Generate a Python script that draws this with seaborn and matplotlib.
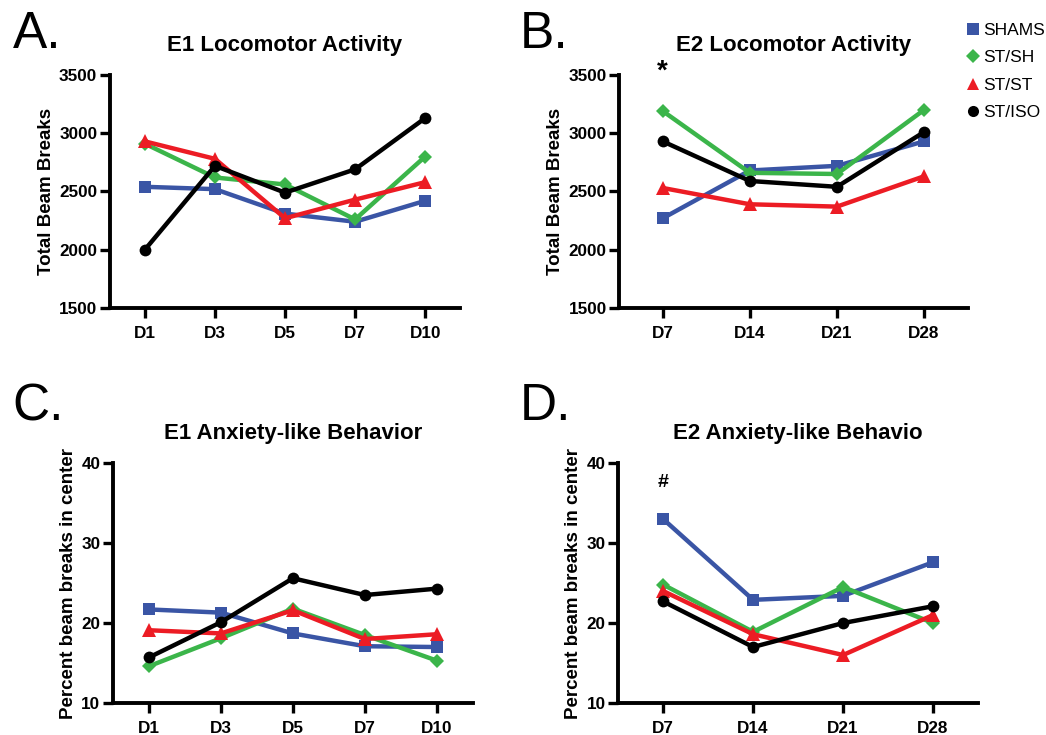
import numpy as np
import pandas as pd
import matplotlib.pyplot as plt
from matplotlib.lines import Line2D
import seaborn as sns

# ---------------------------
# Data
# ---------------------------
groups = ["SHAMS", "ST/SH", "ST/ST", "ST/ISO"]
e1_days = ["D1", "D3", "D5", "D7", "D10"]
e2_days = ["D7", "D14", "D21", "D28"]

# E1 locomotor activity (total beam breaks)
e1_loco_shams = [2540, 2520, 2310, 2240, 2420]
e1_loco_stsh = [2910, 2620, 2560, 2260, 2800]
e1_loco_stst = [2930, 2780, 2270, 2430, 2580]
e1_loco_stiso = [2000, 2720, 2490, 2690, 3130]

# E2 locomotor activity
e2_loco_shams = [2270, 2680, 2720, 2930]
e2_loco_stsh = [3190, 2660, 2650, 3200]
e2_loco_stst = [2530, 2390, 2370, 2630]
e2_loco_stiso = [2930, 2590, 2540, 3010]

# E1 anxiety-like behavior (percent beam breaks in center)
e1_anx_shams = [21.7, 21.3, 18.7, 17.1, 17.0]
e1_anx_stsh = [14.6, 18.1, 21.8, 18.5, 15.3]
e1_anx_stst = [19.1, 18.7, 21.6, 18.0, 18.6]
e1_anx_stiso = [15.7, 20.1, 25.6, 23.5, 24.3]

# E2 anxiety-like behavior
e2_anx_shams = [33.0, 22.9, 23.4, 27.6]
e2_anx_stsh = [24.8, 18.9, 24.5, 20.0]
e2_anx_stst = [24.0, 18.6, 16.0, 21.0]
e2_anx_stiso = [22.7, 17.0, 20.0, 22.1]

colors = {"SHAMS": "#3A55A5", "ST/SH": "#3BB54A", "ST/ST": "#EC1C24", "ST/ISO": "#000000"}
markers = {"SHAMS": "s", "ST/SH": "D", "ST/ST": "^", "ST/ISO": "o"}
msize = {"SHAMS": 8.5, "ST/SH": 7.5, "ST/ST": 9.5, "ST/ISO": 8.5}


def long_df(days, series):
    rows = []
    for g, vals in zip(groups, series):
        for d, v in zip(days, vals):
            rows.append({"day": d, "group": g, "value": v})
    return pd.DataFrame(rows)


sns.set_style("ticks", {"axes.edgecolor": "black", "text.color": "black",
                        "xtick.color": "black", "ytick.color": "black",
                        "axes.labelcolor": "black"})
plt.rcParams["font.family"] = ["Liberation Sans", "DejaVu Sans"]
plt.rcParams["font.weight"] = "bold"

fig = plt.figure(figsize=(10.46, 7.35), dpi=100)

panels = [
    ([0.105, 0.581, 0.335, 0.317], e1_days,
     [e1_loco_shams, e1_loco_stsh, e1_loco_stst, e1_loco_stiso],
     "E1 Locomotor Activity", "Total Beam Breaks", (1500, 3500), [1500, 2000, 2500, 3000, 3500]),
    ([0.592, 0.581, 0.333, 0.317], e2_days,
     [e2_loco_shams, e2_loco_stsh, e2_loco_stst, e2_loco_stiso],
     "E2 Locomotor Activity", "Total Beam Breaks", (1500, 3500), [1500, 2000, 2500, 3000, 3500]),
    ([0.108, 0.0435, 0.344, 0.3265], e1_days,
     [e1_anx_shams, e1_anx_stsh, e1_anx_stst, e1_anx_stiso],
     "E1 Anxiety-like Behavior", "Percent beam breaks in center", (10, 40), [10, 20, 30, 40]),
    ([0.591, 0.0435, 0.344, 0.3265], e2_days,
     [e2_anx_shams, e2_anx_stsh, e2_anx_stst, e2_anx_stiso],
     "E2 Anxiety-like Behavio", "Percent beam breaks in center", (10, 40), [10, 20, 30, 40]),
]

axes = []
for rect, days, series, title, ylabel, ylim, yticks in panels:
    ax = fig.add_axes(rect)
    df = long_df(days, series)
    for g in groups:
        sub = df[df["group"] == g]
        sns.lineplot(data=sub, x="day", y="value", color=colors[g], marker=markers[g],
                     markersize=msize[g], markeredgewidth=0, linewidth=3.2, sort=False,
                     ax=ax, legend=False)
    ax.set_xlim(-0.5, len(days) - 0.5)
    ax.set_ylim(*ylim)
    ax.set_yticks(yticks)
    ax.set_title(title, fontsize=16, fontweight="bold", pad=17)
    ax.set_xlabel("")
    ax.set_ylabel(ylabel, fontsize=13.5, fontweight="bold", labelpad=3)
    sns.despine(ax=ax)
    for s in ["left", "bottom"]:
        ax.spines[s].set_linewidth(2.8)
    ax.tick_params(width=2.4, length=7, labelsize=12.3)
    ax.tick_params(axis="x", pad=6)
    ax.tick_params(axis="y", pad=2)
    for lab in ax.get_xticklabels() + ax.get_yticklabels():
        lab.set_fontweight("bold")
    axes.append(ax)

# significance marks
axes[1].text(0, 3530, "*", ha="center", va="center", fontsize=20, fontweight="bold", clip_on=False)
axes[3].text(0, 37.6, "#", ha="center", va="center", fontsize=14, fontweight="bold")

# panel letters
for x, y, letter in [(0.012, 0.935, "A."), (0.497, 0.935, "B."),
                     (0.012, 0.428, "C."), (0.497, 0.428, "D.")]:
    fig.text(x, y, letter, fontsize=37, fontweight="normal", va="baseline")

# legend
handles = [Line2D([], [], color=colors[g], marker=markers[g], linestyle="none",
                  markersize=msize[g] - 0.5, markeredgewidth=0) for g in groups]
fig.legend(handles, groups, loc="upper left", bbox_to_anchor=(0.91, 0.99), frameon=False,
           handlelength=0.6, handletextpad=0.3, labelspacing=0.7,
           prop={"weight": "normal", "size": 12.5})

fig.savefig("out.png", dpi=100)
